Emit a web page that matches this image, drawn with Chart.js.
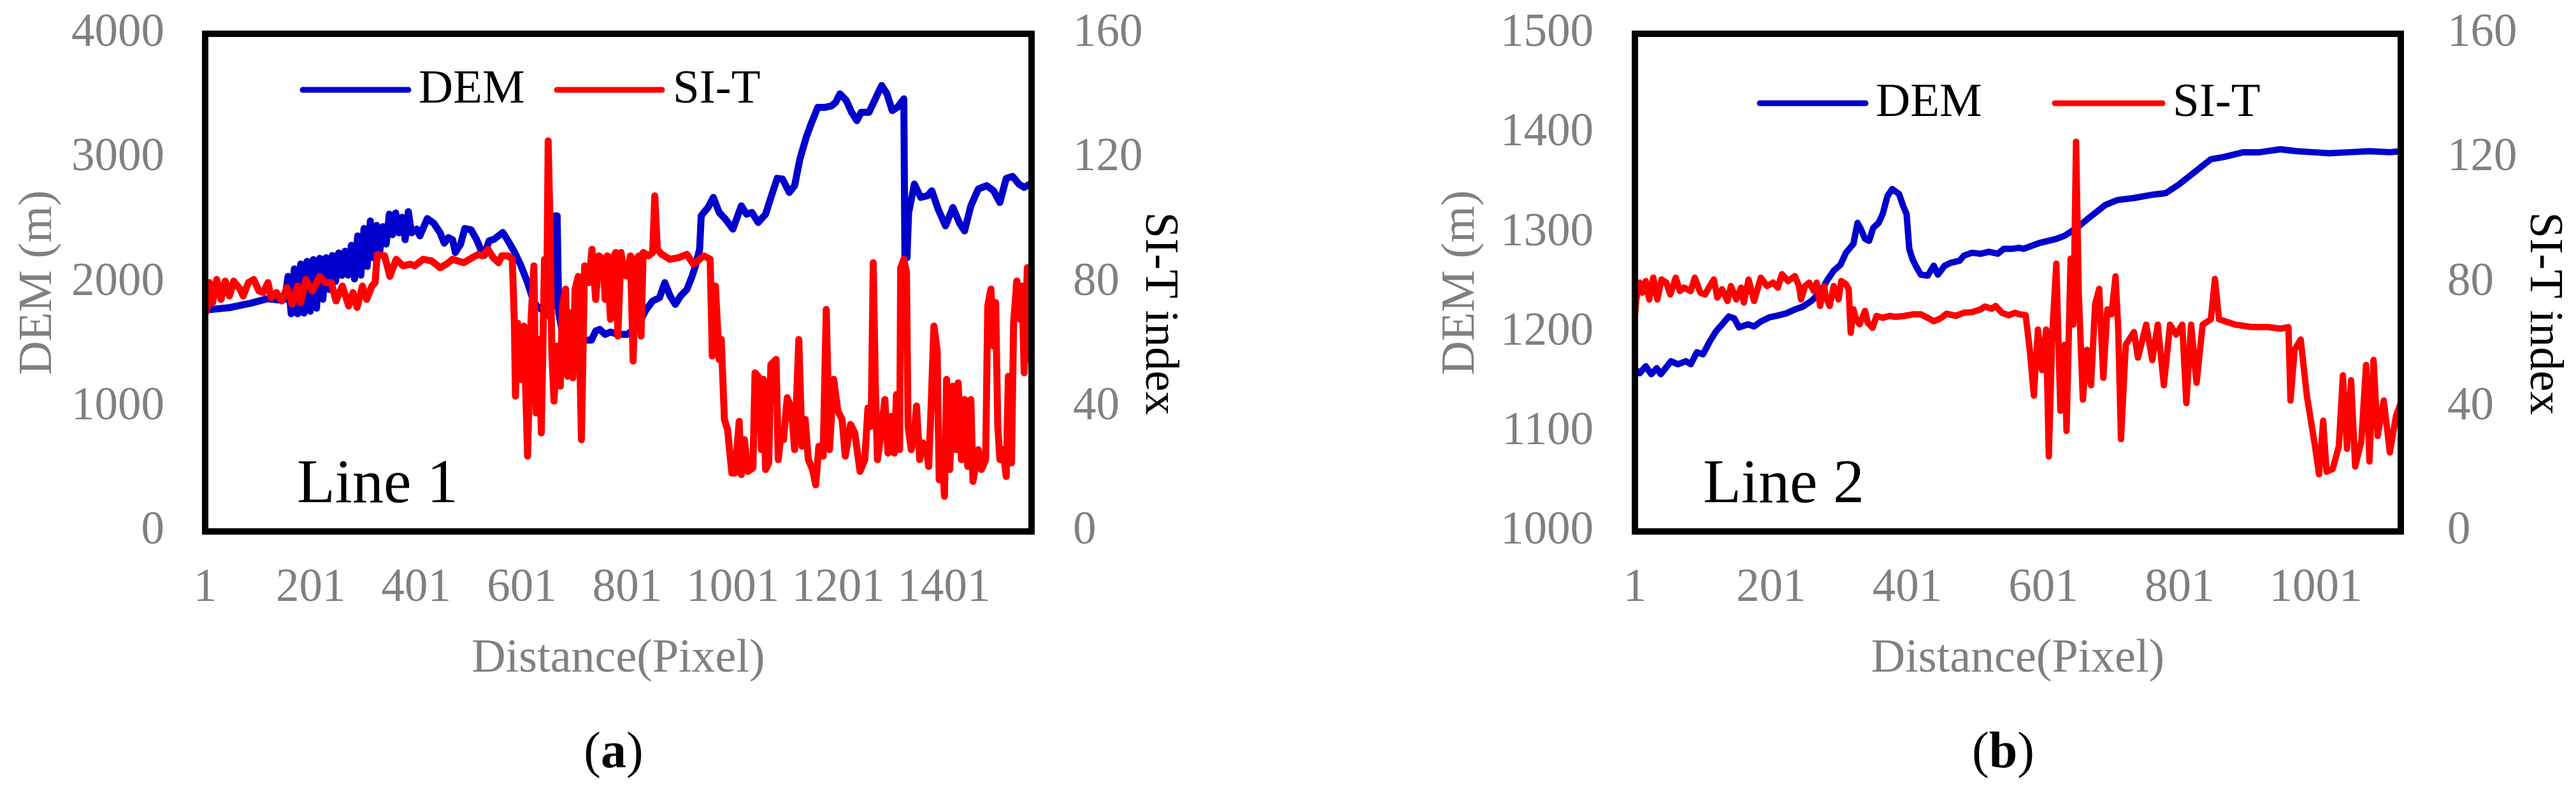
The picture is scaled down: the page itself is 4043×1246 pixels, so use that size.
<!DOCTYPE html>
<html>
<head>
<meta charset="utf-8">
<script src="https://cdn.jsdelivr.net/npm/chart.js@4.4.0/dist/chart.umd.min.js"></script>
<style>
  html, body { margin: 0; padding: 0; background: #fff; }
  body { width: 4043px; height: 1246px; position: relative; overflow: hidden; }
  .panel { position: absolute; top: 0; height: 1246px; }
  #panelA { left: 0; width: 2000px; }
  #panelB { left: 2000px; width: 2043px; }
</style>
</head>
<body>
<div class="panel" id="panelA"><canvas id="chartA" width="2000" height="1246"></canvas></div>
<div class="panel" id="panelB"><canvas id="chartB" width="2043" height="1246"></canvas></div>
<script>
// ---- Line 1 (panel a) ----
const line1Ticks = [1, 201, 401, 601, 801, 1001, 1201, 1401];
const line1DemX = [1, 47, 87, 120, 140, 152,
  158, 164, 170, 176, 182, 188, 194, 200, 206, 212, 218, 224, 230, 236, 242, 248, 254, 260,
  266, 272, 278, 284, 290, 296, 302, 308, 314, 320, 326, 332, 338, 344, 350, 356, 362, 368,
  374, 380, 386, 392,
  402, 408, 422, 434, 446, 454, 462, 470, 475, 485, 493, 505, 515, 523, 530, 539, 549, 555,
  565, 575, 587, 599, 612, 620, 628, 638, 648, 660, 664, 668, 671, 678, 692, 708, 720, 733,
  741, 749, 759, 769, 783, 801, 817, 825, 837, 849, 862, 872, 882, 892, 902, 914, 924, 930,
  938, 941, 946, 954, 964, 975, 987, 1001, 1017, 1027, 1037, 1049, 1063, 1071, 1085, 1095,
  1108, 1118, 1128, 1140, 1148, 1162, 1176, 1188, 1196, 1204, 1216, 1226, 1236, 1244, 1259,
  1271, 1283, 1293, 1303, 1313, 1325, 1327, 1331, 1334, 1345, 1357, 1370, 1378, 1390, 1404,
  1418, 1430, 1440, 1452, 1466, 1482, 1495, 1507, 1519, 1531, 1543, 1553, 1567];
const line1Dem = [1780, 1799, 1834, 1871, 1860, 1865,
  2050, 1750, 2110, 1750, 2150, 1755, 2170, 1770, 2185, 1795, 2195, 1866, 2200, 1945, 2218, 2010, 2238, 2058,
  2252, 2060, 2300, 2030, 2375, 2060, 2435, 2130, 2495, 2200, 2460, 2255, 2450, 2310, 2550, 2385, 2560, 2400,
  2525, 2345, 2570, 2400,
  2430, 2376, 2515, 2478, 2403, 2317, 2362, 2344, 2242, 2309, 2435, 2424, 2349, 2268, 2220, 2336, 2349, 2370,
  2403, 2336, 2247, 2140, 2000, 1893, 1817, 1785, 1807, 1812, 2537, 2537, 1758, 1597, 1530, 1511, 1538, 1538,
  1611, 1624, 1584, 1603, 1584, 1584, 1638, 1691, 1785, 1852, 1879, 2000, 1893, 1825, 1893, 1946, 2054, 2134,
  2268, 2537, 2564, 2604, 2685, 2564, 2510, 2430, 2617, 2550, 2564, 2483, 2550, 2658, 2838, 2832,
  2725, 2779, 2993, 3168, 3262, 3409, 3409, 3420, 3450, 3517, 3463, 3369, 3302, 3369, 3369,
  3477, 3584, 3517, 3383, 3409, 3477, 2200, 2200, 2560, 2792, 2685, 2698, 2738, 2591, 2456,
  2604, 2483, 2416, 2617, 2752, 2779, 2738, 2644, 2838, 2854, 2792, 2765, 2800];
const line1SitX = [1, 5, 9, 15, 23, 31, 39, 47, 55, 67, 73, 83, 93, 103, 111, 120, 126, 136, 146, 156,
  166, 176, 182, 192, 204, 218, 228, 240, 249, 261, 273, 281, 289, 299, 307, 317, 323, 327, 341, 351,
  363, 376, 390, 398, 414, 430, 446, 458, 470, 491, 507, 519, 527, 537, 547, 557, 563, 575, 583, 587,
  589, 593, 599, 605, 612, 618, 624, 628, 634, 638, 644, 648, 651, 654, 658, 662, 668, 674, 678, 684,
  688, 694, 698, 702, 708, 714, 720, 728, 734, 741, 747, 755, 759, 763, 769, 773, 779, 783, 789, 795,
  799, 807, 812, 817, 823, 827, 831, 841, 849, 853, 858, 866, 882, 898, 914, 926, 938, 946, 958, 962,
  968, 975, 979, 985, 991, 999, 1005, 1013, 1017, 1023, 1029, 1039, 1043, 1051, 1055, 1059, 1063, 1069,
  1073, 1083, 1087, 1091, 1097, 1104, 1112, 1118, 1126, 1132, 1138, 1144, 1152, 1158, 1164, 1172, 1178,
  1184, 1192, 1200, 1208, 1214, 1224, 1232, 1242, 1251, 1257, 1263, 1267, 1271, 1275, 1281, 1289, 1295,
  1301, 1307, 1311, 1317, 1319, 1325, 1330, 1333, 1339, 1345, 1349, 1355, 1361, 1368, 1372, 1376, 1382,
  1388, 1392, 1398, 1402, 1406, 1412, 1418, 1424, 1428, 1434, 1440, 1446, 1452, 1456, 1466, 1472, 1480,
  1484, 1490, 1495, 1499, 1503, 1507, 1513, 1519, 1523, 1529, 1533, 1539, 1545, 1549, 1553, 1559, 1563, 1567];
const line1Sit = [70, 72, 80, 73.6, 81, 74.6, 80.5, 75.7, 80.5, 77.9, 75.7, 80, 81, 77.3, 76.8, 80, 75.2, 76.8, 74.1, 78.4,
  73, 78.9, 73.6, 81, 77.3, 82, 80, 80, 74.1, 78.9, 72.5, 76.8, 72, 78.9, 74.6, 78.9, 80, 89, 88.6, 82,
  87.5, 85.4, 85.9, 85.4, 87.5, 87, 84.8, 85.9, 87.5, 86.4, 88, 89.1, 88.6, 90.7, 88, 86.4, 88.6, 88.6, 87.5, 67,
  43.5, 67, 48.9, 66, 24.2, 66, 85.4, 38.1, 61.7, 31.7, 87.5, 69.3, 125.6, 102.5, 57.4, 41.9, 59.6, 46.7, 72.5, 77.9,
  49.9, 70.3, 49.4, 77.9, 82, 29.5, 85.4, 80, 90.7, 74.6, 88.6, 87.5, 74.6, 88.6, 68.2, 87.5, 89.7, 62.8, 89.7, 82.7,
  82.1, 88.6, 54.8, 87.5, 88.6, 62.8, 89.7, 88.6, 89.7, 107.9, 90.7, 89.1, 87.5, 88, 89.1, 85.9, 87.5, 88.6, 87.5, 56.4,
  78.9, 55.3, 61.7, 36, 32.7, 18.8, 18.8, 35.4, 18.3, 29.5, 19.3, 20.4, 51, 49.4, 26.3, 48.9, 19.9, 22,
  53.7, 55.3, 23.1, 29.5, 29.5, 43, 39.2, 26.3, 61.7, 27.4, 36, 23.1, 19.9, 15, 27.4, 24.2, 71.4,
  26.3, 48.9, 38.7, 36, 24.2, 34.4, 31.7, 19.3, 23.1, 39.7, 33.8, 86.4, 46.7, 23.1, 30.6, 42.4, 25.2,
  37, 25.2, 44, 26.3, 84.8, 87.5, 83.2, 33.8, 26.3, 31.7, 40.3, 23.1, 28.5, 26.3, 20.9, 37, 66,
  58.5, 16.6, 23.1, 11.3, 48.9, 19.9, 46.7, 26.3, 47.8, 23.1, 42.4, 20.9, 42.4, 16.1, 26.3, 19.9, 23.1,
  72.5, 77.9, 59.6, 73.6, 33.8, 23.1, 26.3, 17.7, 49.9, 22, 67.1, 80.5, 68.2, 78.9, 51, 84.8, 55.3, 76.8];

// ---- Line 2 (panel b) ----
const line2Ticks = [1, 201, 401, 601, 801, 1001];
const line2DemX = [1, 8, 17, 25, 33, 39, 54, 64, 76, 83, 92, 101, 111, 120, 129, 139, 147, 154, 167, 176,
  186, 198, 211, 223, 236, 248, 261, 275, 284, 293, 303, 311, 322, 328, 332, 339, 345, 351, 359, 365,
  372, 379, 389, 395, 400, 404, 409, 415, 421, 431, 440, 446, 456, 465, 478, 484, 496, 509, 521, 534,
  543, 556, 565, 572, 596, 620, 632, 650, 668, 692, 710, 734, 758, 781, 799, 823, 847, 865, 895, 919,
  949, 973, 997, 1021, 1050, 1080, 1110, 1126];
const line2Dem = [1163, 1159, 1166, 1158, 1164, 1158, 1171, 1168, 1171, 1168, 1180, 1178, 1191, 1201, 1208, 1216, 1214, 1205, 1208, 1206,
  1211, 1215, 1217, 1219, 1223, 1226, 1232, 1242, 1253, 1262, 1268, 1280, 1289, 1310, 1305, 1294, 1292, 1305, 1310, 1319,
  1337, 1344, 1339, 1327, 1319, 1284, 1273, 1265, 1258, 1257, 1267, 1258, 1267, 1270, 1272, 1277, 1280, 1279, 1281, 1279,
  1284, 1284, 1285, 1284, 1290, 1294, 1297, 1305, 1315, 1328, 1333, 1335, 1338, 1340, 1348, 1361, 1374, 1376, 1381, 1381,
  1384, 1382, 1381, 1380, 1381, 1382, 1381, 1382];
const line2SitX = [1, 3, 8, 12, 17, 22, 28, 34, 40, 47, 53, 61, 67, 73, 83, 89, 97, 104, 111, 117,
  122, 129, 137, 142, 150, 157, 161, 168, 176, 186, 195, 204, 211, 217, 226, 236, 242, 245, 251, 257,
  264, 268, 273, 279, 281, 287, 293, 300, 304, 311, 315, 318, 322, 326, 331, 339, 343, 350, 356, 365,
  375, 384, 397, 409, 421, 431, 440, 450, 459, 472, 484, 496, 509, 515, 525, 531, 540, 550, 559, 566,
  575, 581, 587, 593, 599, 605, 609, 614, 620, 626, 632, 635, 641, 645, 649, 653, 659, 665, 671, 677,
  683, 689, 695, 701, 707, 711, 715, 722, 734, 740, 752, 761, 769, 778, 787, 796, 805, 811, 818, 826,
  835, 847, 853, 859, 883, 907, 931, 949, 961, 964, 970, 979, 988, 994, 1000, 1006, 1012, 1017, 1026,
  1035, 1041, 1047, 1053, 1059, 1068, 1075, 1080, 1086, 1092, 1101, 1110, 1119, 1126];
const line2Sit = [69.3, 74.6, 80, 76.8, 80.5, 74.6, 81.6, 74.6, 81, 80, 76.2, 81.6, 77.3, 78.4, 77.3, 81.6, 76.8, 76.2, 78.9, 81,
  75.2, 77.9, 74.1, 78.9, 74.6, 78.4, 73.6, 81, 74.1, 81.6, 78.9, 80, 78.4, 82.7, 80.5, 82.1, 78.9, 74.6, 78.9, 80,
  77.3, 80, 72.5, 78.9, 75.7, 72.5, 78.9, 74.6, 80.5, 79.5, 77.9, 63.9, 71.4, 68.2, 66.6, 70.9, 67.1, 65.5, 69.3, 68.7,
  69.3, 69, 69.3, 69.8, 69.8, 68.7, 67.6, 68.5, 70, 69.3, 70.3, 70.5, 71.4, 72.3, 71.6, 72.5, 70.3, 69.5, 70.3, 69.8,
  69.5, 58.4, 43.7, 64.9, 51.9, 64.9, 24.1, 63.3, 86.1, 38.8, 60, 32.3, 87.7, 66.5, 125.3, 76.3, 42.4, 58.4, 47, 73.1,
  78, 49.4, 71.4, 69.8, 82, 64.9, 29.7, 60, 64.1, 55.9, 66.5, 55.1, 66.5, 47, 66.5, 63.3, 66.5, 41.3, 66.5, 47.8,
  66.5, 68.2, 81.2, 68.2, 66.5, 65.7, 65.7, 65.2, 65.7, 42.1, 58.4, 61.7, 43.7, 35.6, 27.4, 18.4, 35.6, 19.2, 20.1,
  27.4, 50.2, 26.6, 48.6, 20.9, 29, 53.5, 22.5, 55.1, 30.7, 42.1, 25.4, 37.2, 41.3];

const SERIF = '"Liberation Serif", "Times New Roman", serif';
const GRAY = '#808080';
const BLUE = '#0000CC';
const RED = '#FF0000';

function pairs(xs, ys) {
  return xs.map((x, i) => ({ x: x, y: ys[i] }));
}

// frame, legend, "Line n" label, right axis title and caption
const panelDecor = {
  id: 'panelDecor',
  afterDraw(chart, args, o) {
    const ctx = chart.ctx;
    const a = chart.chartArea;
    ctx.save();
    ctx.strokeStyle = '#000';
    ctx.lineWidth = 10;
    ctx.strokeRect(a.left, a.top, a.right - a.left, a.bottom - a.top);

    ctx.lineCap = 'round';
    ctx.lineWidth = 9;
    ctx.font = '75px ' + SERIF;
    ctx.textBaseline = 'middle';
    ctx.textAlign = 'left';
    ctx.fillStyle = '#000';
    o.legend.forEach(item => {
      ctx.strokeStyle = item.color;
      ctx.beginPath();
      ctx.moveTo(item.x0, o.legendY);
      ctx.lineTo(item.x1, o.legendY);
      ctx.stroke();
      ctx.fillText(item.text, item.tx, o.legendY);
    });

    ctx.font = '98px ' + SERIF;
    ctx.textBaseline = 'alphabetic';
    ctx.fillText(o.label, o.labelX, o.labelY);

    ctx.save();
    ctx.font = '74px ' + SERIF;
    ctx.translate(o.rightTitleX, o.rightTitleY);
    ctx.rotate(Math.PI / 2);
    ctx.textAlign = 'center';
    ctx.textBaseline = 'middle';
    ctx.fillText('SI-T index', 0, 0);
    ctx.restore();

    // caption like "(a)" with a bold letter
    const normal = '80px ' + SERIF;
    const bold = 'bold 80px ' + SERIF;
    ctx.font = normal;
    const wp = ctx.measureText('(').width;
    const wq = ctx.measureText(')').width;
    ctx.font = bold;
    const wl = ctx.measureText(o.caption).width;
    let cx = o.captionX - (wp + wl + wq) / 2;
    ctx.textBaseline = 'alphabetic';
    ctx.font = normal;
    ctx.fillText('(', cx, o.captionY);
    ctx.font = bold;
    ctx.fillText(o.caption, cx + wp, o.captionY);
    ctx.font = normal;
    ctx.fillText(')', cx + wp + wl, o.captionY);
    ctx.restore();
  }
};

function buildChart(id, p) {
  const tickFont = { family: SERIF, size: 73 };
  const titleFont = { family: SERIF, size: 74 };
  return new Chart(document.getElementById(id), {
    type: 'line',
    data: {
      datasets: [
        {
          label: 'DEM',
          data: pairs(p.demX, p.dem),
          yAxisID: 'y',
          borderColor: BLUE,
          borderWidth: p.lineWidth,
          pointRadius: 0,
          borderJoinStyle: 'round',
          borderCapStyle: 'round',
          order: 2
        },
        {
          label: 'SI-T',
          data: pairs(p.sitX, p.sit),
          yAxisID: 'y1',
          borderColor: RED,
          borderWidth: p.lineWidth,
          pointRadius: 0,
          borderJoinStyle: 'round',
          borderCapStyle: 'round',
          order: 1
        }
      ]
    },
    options: {
      responsive: false,
      animation: false,
      events: [],
      layout: { padding: { top: 53, left: 0, right: 0, bottom: 0 } },
      scales: {
        x: {
          type: 'linear',
          min: 1,
          max: p.xMax,
          bounds: 'data',
          grid: { display: false, drawTicks: false },
          border: { display: false },
          afterBuildTicks: axis => { axis.ticks = p.ticks.map(v => ({ value: v })); },
          afterFit: scale => { scale.height = 412; },
          ticks: {
            autoSkip: false,
            maxRotation: 0,
            padding: 46,
            color: GRAY,
            font: tickFont,
            callback: v => String(v)
          },
          title: {
            display: true,
            text: 'Distance(Pixel)',
            color: GRAY,
            font: titleFont,
            padding: { top: 0, bottom: 167 }
          }
        },
        y: {
          position: 'left',
          min: p.demMin,
          max: p.demMax,
          // gap to the labels through tickLength, so the axis does not pad the top
          grid: { display: false, drawTicks: true, tickLength: p.leftPad },
          border: { display: false },
          afterFit: scale => { scale.width = p.leftW; },
          ticks: {
            stepSize: p.demStep,
            padding: 0,
            color: GRAY,
            font: tickFont,
            callback: v => String(v)
          },
          title: {
            display: true,
            text: 'DEM (m)',
            color: GRAY,
            font: titleFont,
            padding: { top: p.leftTitlePad, bottom: 0 }
          }
        },
        y1: {
          position: 'right',
          min: 0,
          max: 160,
          grid: { display: false, drawTicks: true, tickLength: p.rightPad },
          border: { display: false },
          afterFit: scale => { scale.width = p.rightW; },
          ticks: {
            stepSize: 40,
            padding: 0,
            color: GRAY,
            font: tickFont,
            callback: v => String(v)
          }
        }
      },
      plugins: {
        legend: { display: false },
        tooltip: { enabled: false },
        panelDecor: p.decor
      }
    },
    plugins: [panelDecor]
  });
}

buildChart('chartA', {
  demX: line1DemX, dem: line1Dem, sitX: line1SitX, sit: line1Sit,
  ticks: line1Ticks, xMax: 1567,
  demMin: 0, demMax: 4000, demStep: 1000,
  leftW: 322, rightW: 381, leftPad: 64, rightPad: 65, leftTitlePad: 16,
  lineWidth: 11,
  decor: {
    legendY: 141,
    legend: [
      { text: 'DEM', color: BLUE, x0: 475, x1: 641, tx: 657 },
      { text: 'SI-T', color: RED, x0: 874, x1: 1039, tx: 1056 }
    ],
    label: 'Line 1', labelX: 466, labelY: 788,
    rightTitleX: 1818, rightTitleY: 492,
    caption: 'a', captionX: 963, captionY: 1204
  }
});

buildChart('chartB', {
  demX: line2DemX, dem: line2Dem, sitX: line2SitX, sit: line2Sit,
  ticks: line2Ticks, xMax: 1126,
  demMin: 1000, demMax: 1500, demStep: 100,
  leftW: 566, rightW: 275, leftPad: 65, rightPad: 73, leftTitlePad: 249,
  lineWidth: 10,
  decor: {
    legendY: 162,
    legend: [
      { text: 'DEM', color: BLUE, x0: 762, x1: 928, tx: 944 },
      { text: 'SI-T', color: RED, x0: 1225, x1: 1394, tx: 1410 }
    ],
    label: 'Line 2', labelX: 673, labelY: 788,
    rightTitleX: 1991, rightTitleY: 492,
    caption: 'b', captionX: 1144, captionY: 1204
  }
});
</script>
</body>
</html>
